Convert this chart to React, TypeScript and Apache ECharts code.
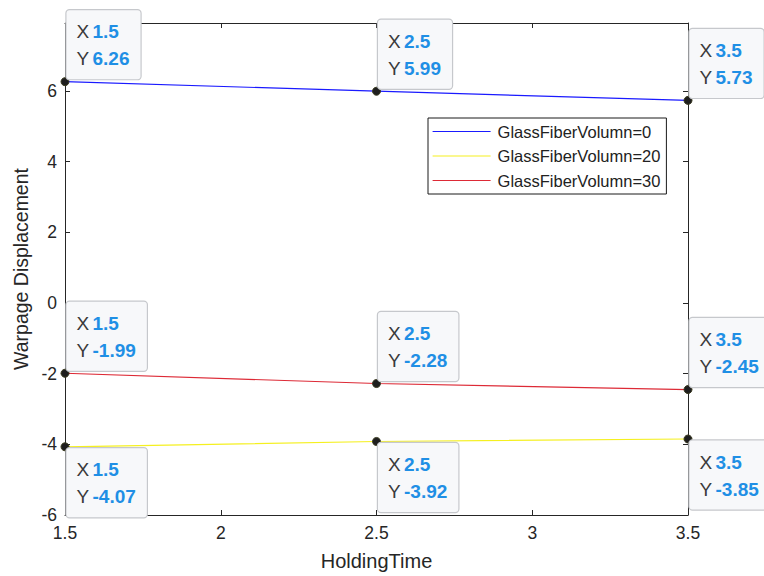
import React, { useEffect, useRef } from "react";
import * as echarts from "echarts";

const holdingTime = [1.5, 2.5, 3.5];
const seriesNames = ["GlassFiberVolumn=0", "GlassFiberVolumn=20", "GlassFiberVolumn=30"];
const vol0 = [6.26, 5.99, 5.73];
const vol20 = [-4.07, -3.92, -3.85];
const vol30 = [-1.99, -2.28, -2.45];
const xTicks = [1.5, 2, 2.5, 3, 3.5];
const yTicks = [-6, -4, -2, 0, 2, 4, 6];

const FONT = "'Liberation Sans', Arial, Helvetica, sans-serif";
const AX = "#262626";

function tipLabel(below: boolean) {
  return {
    show: true,
    position: below ? [6, 6] : [6, 2],
    align: "left",
    verticalAlign: below ? "top" : "bottom",
    backgroundColor: "#f7f8fa",
    borderColor: "#c6c8cc",
    borderWidth: 1.2,
    borderRadius: 3,
    padding: [8, 11, 7, 10],
    lineHeight: 27,
    fontFamily: FONT,
    formatter: (p: any) => `{k|X} {v|${p.value[0]}}\n{k|Y} {v|${p.value[1]}}`,
    rich: {
      k: { fontSize: 19, color: "#3a3a3a", fontFamily: FONT, lineHeight: 27 },
      v: { fontSize: 19, color: "#1f8fe5", fontWeight: "bold", fontFamily: FONT, lineHeight: 27 },
    },
  };
}

export default function App() {
  const ref = useRef<HTMLDivElement>(null);
  useEffect(() => {
    if (!ref.current) return;
    const chart = echarts.init(ref.current, undefined, { renderer: "svg" });
    const mk = (vals: number[]) => holdingTime.map((x, i) => [x, vals[i]]);
    const lineSeries = (name: string, vals: number[], color: string, below: boolean) => ({
      name,
      type: "line",
      data: mk(vals),
      showSymbol: true,
      symbol: "circle",
      symbolSize: 8,
      lineStyle: { color, width: 1.2 },
      itemStyle: { color: "#1e1e1e", borderColor: "#3a3a20", borderWidth: 1 },
      label: tipLabel(below),
      z: 3,
    });
    const tick = { show: true, inside: true, length: 5, lineStyle: { color: AX } };
    const line = { show: true, onZero: false, lineStyle: { color: AX } };
    chart.setOption({
      animation: false,
      backgroundColor: "#ffffff",
      textStyle: { fontFamily: FONT },
      grid: { left: 65, right: 76, top: 23, bottom: 60, show: false },
      legend: {
        orient: "vertical",
        left: 428,
        top: 118,
        itemWidth: 58,
        itemHeight: 12,
        itemGap: 5.5,
        padding: [4, 6, 4, 4],
        backgroundColor: "#ffffff",
        borderColor: "#1a1a1a",
        borderWidth: 1,
        borderRadius: 0,
        itemStyle: { opacity: 0 },
        lineStyle: { width: 1.2 },
        textStyle: { fontSize: 16.5, lineHeight: 19, color: "#222", fontFamily: FONT, padding: [0, 0, 0, 2] },
        data: seriesNames,
      },
      xAxis: [
        {
          type: "value",
          min: 1.5,
          max: 3.5,
          interval: 0.5,
          name: "HoldingTime",
          nameLocation: "middle",
          nameGap: 36,
          nameTextStyle: { fontSize: 20, color: AX, fontFamily: FONT },
          axisLine: line,
          axisTick: tick,
          axisLabel: { fontSize: 17.5, color: AX, margin: 9, fontFamily: FONT, formatter: (v: number) => (xTicks.includes(v) ? String(v) : "") },
          splitLine: { show: false },
        },
        {
          type: "value",
          position: "top",
          min: 1.5,
          max: 3.5,
          interval: 0.5,
          axisLine: line,
          axisTick: tick,
          axisLabel: { show: false },
          splitLine: { show: false },
        },
      ],
      yAxis: [
        {
          type: "value",
          min: -6,
          max: 7.92,
          interval: 2,
          name: "Warpage Displacement",
          nameLocation: "middle",
          nameGap: 32,
          nameTextStyle: { fontSize: 19.5, color: AX, fontFamily: FONT },
          axisLine: line,
          axisTick: tick,
          axisLabel: {
            fontSize: 17.5,
            color: AX,
            margin: 8,
            fontFamily: FONT,
            showMaxLabel: false,
            formatter: (v: number) => (yTicks.includes(v) ? String(v) : ""),
          },
          splitLine: { show: false },
        },
        {
          type: "value",
          position: "right",
          min: -6,
          max: 7.92,
          interval: 2,
          axisLine: line,
          axisTick: tick,
          axisLabel: { show: false },
          splitLine: { show: false },
        },
      ],
      series: [
        lineSeries(seriesNames[0], vol0, "#1a1aff", false),
        lineSeries(seriesNames[1], vol20, "#f5f020", true),
        lineSeries(seriesNames[2], vol30, "#dd2a36", false),
      ],
    });
    return () => chart.dispose();
  }, []);
  return <div ref={ref} style={{ width: 764, height: 576, position: "absolute", left: 0, top: 0 }} />;
}
